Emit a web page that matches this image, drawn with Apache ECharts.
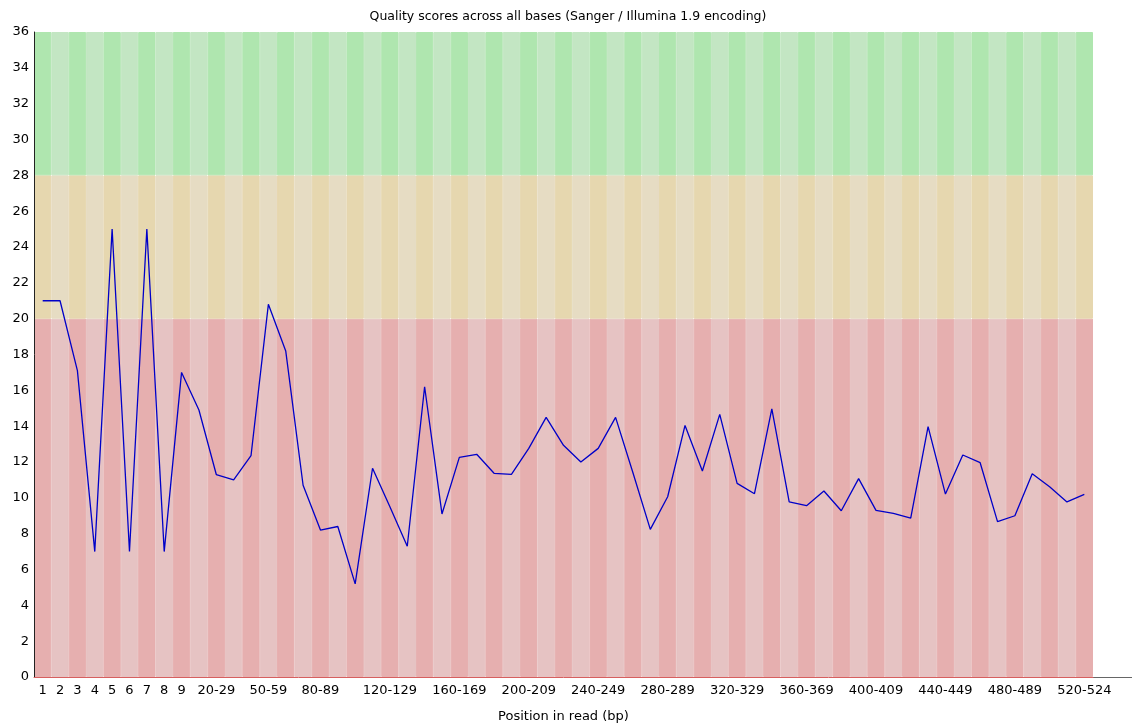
<!DOCTYPE html>
<html>
<head>
<meta charset="utf-8">
<script src="https://cdn.jsdelivr.net/npm/echarts@6/dist/echarts.min.js"></script>
<style>html,body{margin:0;padding:0;background:#fff;}#c{width:1132px;height:728px;}</style>
</head>
<body>
<div id="c"></div>
<script>
const categories = ["1","2","3","4","5","6","7","8","9",
  "10-19","20-29","30-39","40-49","50-59","60-69","70-79","80-89","90-99",
  "100-109","110-119","120-129","130-139","140-149","150-159","160-169","170-179","180-189","190-199",
  "200-209","210-219","220-229","230-239","240-249","250-259","260-269","270-279","280-289","290-299",
  "300-309","310-319","320-329","330-339","340-349","350-359","360-369","370-379","380-389","390-399",
  "400-409","410-419","420-429","430-439","440-449","450-459","460-469","470-479","480-489","490-499",
  "500-509","510-519","520-524"];
const meanQuality = [21.0, 21.0, 17.1, 7.0, 25.0, 7.0, 25.0, 7.0, 17.0,
  14.9, 11.3, 11.0, 12.35, 20.8, 18.2, 10.7, 8.2, 8.4,
  5.2, 11.65, 9.5, 7.3, 16.2, 9.1, 12.26, 12.43, 11.37, 11.31,
  12.76, 14.49, 12.93, 12.0, 12.76, 14.49, 11.4, 8.24, 10.06, 14.04,
  11.5, 14.66, 10.81, 10.23, 14.97, 9.78, 9.56, 10.38, 9.28, 11.07,
  9.3, 9.13, 8.87, 13.97, 10.21, 12.39, 11.96, 8.67, 9.0, 11.35,
  10.62, 9.77, 10.19];
const shownTickLabels = ["1","2","3","4","5","6","7","8","9","20-29","50-59","80-89",
  "120-129","160-169","200-209","240-249","280-289","320-329","360-369","400-409",
  "440-449","480-489","520-524"];
const yTicks = [0, 2, 4, 6, 8, 10, 12, 14, 16, 18, 20, 22, 24, 26, 28, 30, 32, 34, 36];
const bandEdges = [0, 20, 28, 36];  // poor / reasonable / good
const bandColors = [
  ["rgb(230,175,175)", "rgb(230,195,195)"],
  ["rgb(230,215,175)", "rgb(230,220,195)"],
  ["rgb(175,230,175)", "rgb(195,230,195)"]
];

const chart = echarts.init(document.getElementById('c'), null, {renderer: 'canvas'});
const font = 'DejaVu Sans, Verdana, sans-serif';

const bandSeries = [];
for (let b = 0; b < 3; b++) {
  const size = bandEdges[b + 1] - bandEdges[b];
  bandSeries.push({
    type: 'bar',
    stack: 'bands',
    barCategoryGap: '0%',
    barGap: '0%',
    silent: true,
    z: 1,
    data: categories.map((c, i) => ({
      value: size,
      itemStyle: {
        color: bandColors[b][i % 2],
        borderColor: bandColors[b][i % 2],
        borderWidth: 1
      }
    }))
  });
}

chart.setOption({
  animation: false,
  backgroundColor: '#ffffff',
  title: {
    text: 'Quality scores across all bases (Sanger / Illumina 1.9 encoding)',
    left: 563, textAlign: 'center', top: 5,
    textStyle: {fontFamily: font, fontSize: 12.5, fontWeight: 'normal', color: '#000'}
  },
  grid: {left: 34, right: 39, top: 32, bottom: 51, containLabel: false},
  xAxis: {
    type: 'category',
    data: categories,
    boundaryGap: true,
    name: 'Position in read (bp)',
    nameLocation: 'middle',
    nameGap: 33,
    nameTextStyle: {fontFamily: font, fontSize: 13, color: '#000'},
    axisLine: {show: true, lineStyle: {color: 'rgb(215,95,95)', width: 1}},
    axisTick: {show: false},
    axisLabel: {
      interval: (idx, val) => shownTickLabels.indexOf(val) >= 0,
      fontFamily: font, fontSize: 13, color: '#000', margin: 7
    },
    splitLine: {show: false},
    z: 3
  },
  yAxis: {
    type: 'value',
    min: yTicks[0], max: yTicks[yTicks.length - 1], interval: 2,
    axisLine: {show: true, lineStyle: {color: '#222', width: 1}},
    axisTick: {show: false},
    axisLabel: {fontFamily: font, fontSize: 13, color: '#000', margin: 5},
    splitLine: {show: false},
    z: 3
  },
  graphic: [{
    type: 'line',
    shape: {x1: 1093, y1: 677.5, x2: 1132, y2: 677.5},
    style: {stroke: '#666', lineWidth: 1}
  }],
  series: [
    ...bandSeries,
    {
      type: 'line',
      data: meanQuality,
      symbol: 'none',
      z: 5,
      lineStyle: {color: 'rgb(0,0,200)', width: 1.3}
    }
  ]
});
</script>
</body>
</html>
